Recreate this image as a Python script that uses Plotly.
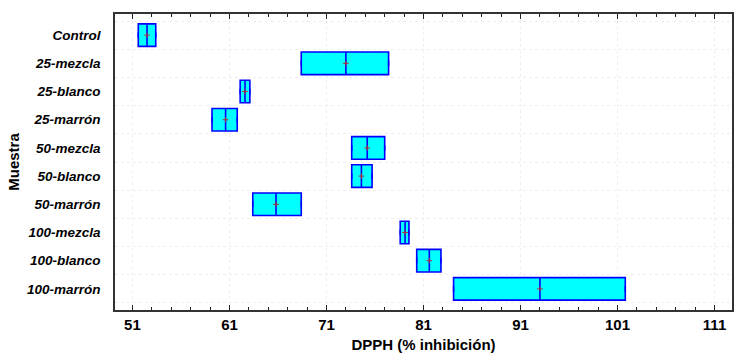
import plotly.graph_objects as go

categories = ["Control", "25-mezcla", "25-blanco", "25-marrón", "50-mezcla",
              "50-blanco", "50-marrón", "100-mezcla", "100-blanco", "100-marrón"]
mins = [51.6, 68.4, 62.1, 59.2, 73.6, 73.6, 63.4, 78.6, 80.3, 84.1]
medians = [52.5, 73.0, 62.6, 60.6, 75.2, 74.6, 65.8, 79.1, 81.6, 93.0]
maxs = [53.4, 77.4, 63.1, 61.8, 77.0, 75.7, 68.4, 79.5, 82.8, 101.8]
means = [52.5, 73.0, 62.6, 60.6, 75.2, 74.6, 65.8, 79.1, 81.6, 93.0]
xticks = [51, 61, 71, 81, 91, 101, 111]

pos = list(range(len(categories)))

fig = go.Figure()
fig.add_trace(go.Box(
    y=pos, q1=mins, median=medians, q3=maxs,
    lowerfence=mins, upperfence=maxs,
    orientation="h", width=0.8, whiskerwidth=0,
    fillcolor="#00FFFF", line=dict(color="#0000FF", width=1.6),
    boxpoints=False, hoverinfo="skip", showlegend=False,
))
# end caps
fig.add_trace(go.Scatter(
    x=mins + maxs, y=pos + pos, mode="markers",
    marker=dict(symbol="line-ns", size=4, line=dict(color="#0000FF", width=1.5)),
    showlegend=False, hoverinfo="skip",
))
# means
fig.add_trace(go.Scatter(
    x=means, y=pos, mode="markers",
    marker=dict(symbol="cross-thin", size=4, line=dict(color="#B03030", width=1)),
    showlegend=False, hoverinfo="skip",
))

font = "Liberation Sans, Arial, sans-serif"
fig.update_layout(
    width=735, height=355,
    margin=dict(l=115, r=1, t=14, b=45),
    paper_bgcolor="white", plot_bgcolor="white",
    font=dict(family=font, color="black"),
    xaxis=dict(
        range=[49.2, 112.8], tickvals=xticks, ticktext=[str(v) for v in xticks],
        ticks="inside", ticklen=5, tickwidth=1.2, tickcolor="#222",
        tickfont=dict(size=15, weight="bold", family=font),
        showline=True, linecolor="#333", linewidth=1.6, mirror="ticks",
        showgrid=True, gridcolor="#efefef", griddash="dot", gridwidth=1,
        zeroline=False,
        minor=dict(tick0=51, dtick=2, ticks="inside", ticklen=3, tickcolor="#222", showgrid=False),
        title=dict(text="DPPH (% inhibición)", font=dict(size=15, weight="bold", family=font), standoff=8),
    ),
    yaxis=dict(
        range=[9.75, -0.75], tickvals=pos, ticktext=categories,
        ticks="", showgrid=False, zeroline=False,
        tickfont=dict(size=13.5, weight="bold", style="italic", family=font),
        ticklabelstandoff=10,
        showline=True, linecolor="#333", linewidth=1.6, mirror=True,
        minor=dict(tickvals=[p - 0.5 for p in pos] + [9.5], ticks="", showgrid=True,
                   gridcolor="#efefef", griddash="dot", gridwidth=1),
        title=dict(text="Muestra", font=dict(size=15, weight="bold", family=font), standoff=4),
    ),
)

fig.write_html("out.html")
